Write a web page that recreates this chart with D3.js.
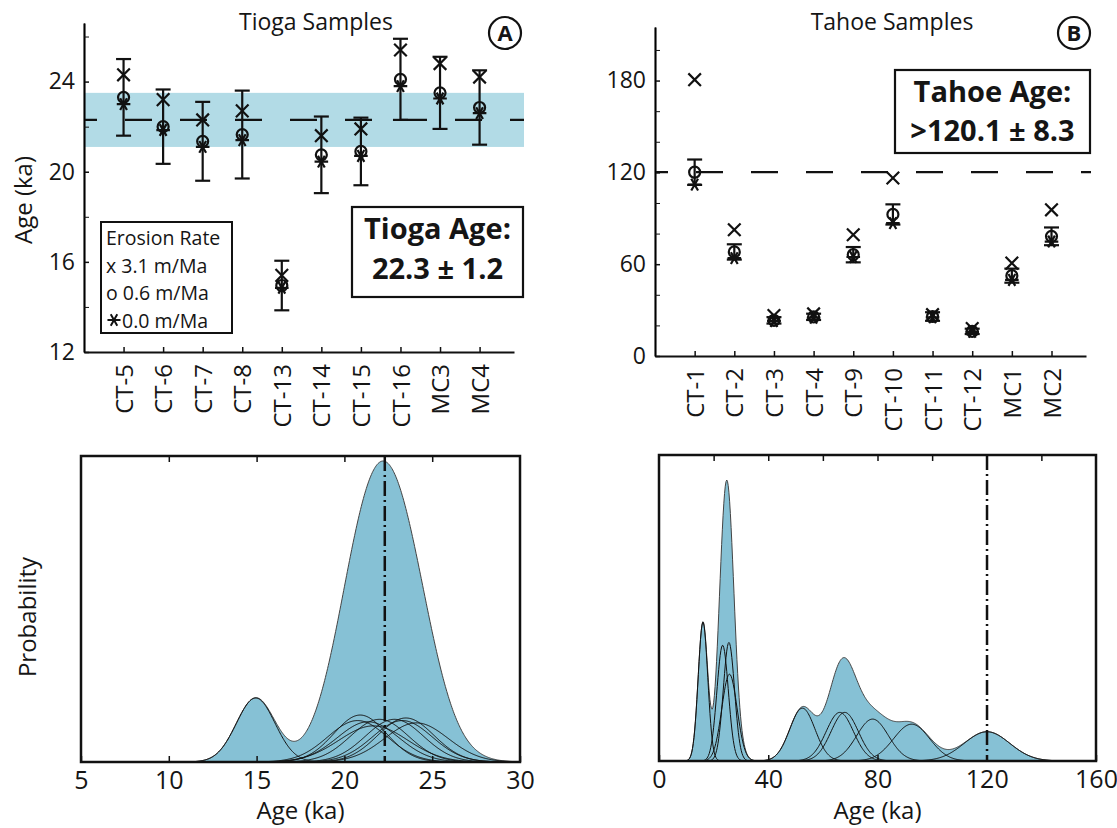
<!DOCTYPE html>
<html>
<head>
<meta charset="utf-8">
<script src="https://cdn.jsdelivr.net/npm/d3@7"></script>
<style>
body { margin: 0; background: #fff; }
text { font-family: "Open Sans", "Noto Sans", sans-serif; fill: #151515; }
</style>
</head>
<body>
<div id="chart"></div>
<script>
// ---- Tioga samples (panel A and bottom left) ----
const tiogaSamples = ["CT-5","CT-6","CT-7","CT-8","CT-13","CT-14","CT-15","CT-16","MC3","MC4"];
const tiogaAge31 = [24.3, 23.2, 22.3, 22.7, 15.4, 21.6, 21.9, 25.4, 24.8, 24.2];   // x  3.1 m/Ma
const tiogaAge06 = [23.3, 22.0, 21.35, 21.65, 14.95, 20.75, 20.9, 24.1, 23.5, 22.85]; // o 0.6 m/Ma
const tiogaAge00 = [23.0, 21.85, 21.1, 21.4, 14.85, 20.45, 20.7, 23.8, 23.25, 22.6]; // * 0.0 m/Ma
const tiogaErr   = [1.7, 1.65, 1.75, 1.95, 1.1, 1.7, 1.5, 1.8, 1.6, 1.65];
const tiogaMean = 22.3, tiogaSd = 1.2;

// ---- Tahoe samples (panel B and bottom right) ----
const tahoeSamples = ["CT-1","CT-2","CT-3","CT-4","CT-9","CT-10","CT-11","CT-12","MC1","MC2"];
const tahoeAge31 = [180.6, 82.5, 26.5, 27.5, 79.2, 116.3, 27.0, 18.0, 60.7, 95.5];
const tahoeAge06 = [120.1, 68.0, 23.3, 25.6, 66.2, 92.5, 25.8, 16.1, 52.5, 78.2];
const tahoeAge00 = [112.0, 64.0, 22.8, 25.0, 64.7, 86.8, 25.2, 15.8, 49.7, 74.8];
const tahoeErr   = [8.3, 5.0, 2.1, 2.05, 5.0, 6.6, 2.8, 1.75, 4.6, 5.8];
const tahoeMean = 120.1, tahoeSd = 8.3;

const bandColor = "#b2dbe6";
const pdfColor = "#86c1d5";

const svg = d3.select("#chart").append("svg")
    .attr("width", 1117)
    .attr("height", 828);

// top panels: ages of each sample for the three erosion rates
function drawAges(cfg) {
    let g = svg.append("g");
    let x = d3.scaleLinear().domain([0, 10.87]).range(cfg.xRange);
    let y = d3.scaleLinear().domain(cfg.yDomain).range(cfg.yRange);
    let idx = d3.range(1, cfg.samples.length + 1);

    if (cfg.band) {
        g.append("rect")
            .attr("x", x(0)).attr("width", cfg.lineEnd - x(0))
            .attr("y", y(cfg.mean + cfg.sd))
            .attr("height", y(cfg.mean - cfg.sd) - y(cfg.mean + cfg.sd))
            .attr("fill", bandColor);
    }
    g.append("line")
        .attr("x1", x(0)).attr("x2", cfg.lineEnd)
        .attr("y1", y(cfg.mean)).attr("y2", y(cfg.mean))
        .attr("stroke", "#111").attr("stroke-width", 2.2)
        .attr("stroke-dasharray", "27,28").attr("stroke-dashoffset", 14);

    // axes
    let yAxis = d3.axisLeft(y).tickValues(cfg.yMajor).tickSize(-5).tickSizeOuter(0).tickPadding(9);
    let yMinor = d3.axisLeft(y).tickValues(cfg.yMinor).tickSize(-5).tickSizeOuter(0).tickFormat("");
    let xAxis = d3.axisBottom(x).tickValues(idx).tickSize(-5).tickSizeOuter(0)
        .tickFormat(i => cfg.samples[i - 1]);

    let ya = g.append("g").attr("transform", "translate(" + x(0) + ",0)").call(yAxis);
    g.append("g").attr("transform", "translate(" + x(0) + ",0)").call(yMinor);
    let xa = g.append("g").attr("transform", "translate(0," + cfg.yRange[0] + ")").call(xAxis);
    [ya, xa].forEach(a => {
        a.select(".domain").attr("stroke-width", 2.2).attr("stroke", "#111");
        a.selectAll(".tick line").attr("stroke-width", 1.5);
        a.selectAll("text").attr("font-size", 23).attr("fill", "#151515")
            .style("font-family", '"Open Sans", sans-serif');
    });
    g.selectAll(".tick line").attr("stroke", "#111");
    xa.selectAll("text")
        .attr("transform", "rotate(-90)")
        .attr("text-anchor", "end")
        .attr("x", -12).attr("y", 0).attr("dy", "0.36em")
        .attr("font-size", 24);

    // error bars (around the 0.6 m/Ma age)
    let bars = g.append("g").attr("stroke", "#111").attr("stroke-width", 2.2).attr("fill", "none");
    let cap = 7.5;
    idx.forEach((i, k) => {
        let c = x(i);
        let top = y(cfg.age06[k] + cfg.err[k]), bot = y(cfg.age06[k] - cfg.err[k]);
        bars.append("line").attr("x1", c).attr("x2", c).attr("y1", top).attr("y2", bot);
        bars.append("line").attr("x1", c - cap).attr("x2", c + cap).attr("y1", top).attr("y2", top);
        bars.append("line").attr("x1", c - cap).attr("x2", c + cap).attr("y1", bot).attr("y2", bot);
    });

    // markers
    let sx = d3.symbol().type(d3.symbolTimes).size(105);
    let so = d3.symbol().type(d3.symbolCircle).size(95);
    let sa = d3.symbol().type(d3.symbolAsterisk).size(130);
    let mk = g.append("g").attr("stroke", "#111").attr("stroke-width", 2.2).attr("fill", "none");
    mk.selectAll(".m31").data(cfg.age31).enter().append("path")
        .attr("d", sx).attr("transform", (d, k) => "translate(" + x(k + 1) + "," + y(d) + ")");
    mk.selectAll(".m06").data(cfg.age06).enter().append("path")
        .attr("d", so).attr("transform", (d, k) => "translate(" + x(k + 1) + "," + y(d) + ")");
    mk.selectAll(".m00").data(cfg.age00).enter().append("path")
        .attr("d", sa).attr("transform", (d, k) => "translate(" + x(k + 1) + "," + y(d) + ") rotate(90)");

    // title and panel letter
    svg.append("text").attr("x", cfg.titleX).attr("y", 30).attr("text-anchor", "middle")
        .attr("font-size", 23).text(cfg.title);
    svg.append("circle").attr("cx", cfg.letterX).attr("cy", 33).attr("r", 16)
        .attr("fill", "none").attr("stroke", "#111").attr("stroke-width", 2.2);
    svg.append("text").attr("x", cfg.letterX).attr("y", 41).attr("text-anchor", "middle")
        .attr("font-size", 22).attr("font-weight", "bold").text(cfg.letter);

    // age box
    let b = cfg.box;
    svg.append("rect").attr("x", b[0]).attr("y", b[1]).attr("width", b[2]).attr("height", b[3])
        .attr("fill", "#fff").attr("stroke", "#111").attr("stroke-width", 2.2);
    cfg.boxText.forEach((t, k) => {
        svg.append("text").attr("x", b[0] + b[2] / 2).attr("y", cfg.boxBase[k])
            .attr("text-anchor", "middle").attr("font-size", 29).attr("font-weight", "bold").text(t);
    });
    return {x: x, y: y};
}

// bottom panels: probability density of the 0.6 m/Ma ages
function drawPdf(cfg) {
    let g = svg.append("g");
    let x = d3.scaleLinear().domain(cfg.xDomain).range(cfg.xRange);
    let grid = d3.range(cfg.xDomain[0], cfg.xDomain[1] + 1e-9, (cfg.xDomain[1] - cfg.xDomain[0]) / 600);
    let gauss = (t, m, s) => Math.exp(-0.5 * ((t - m) / s) ** 2) / (s * Math.sqrt(2 * Math.PI));
    let curves = cfg.ages.map((m, k) => grid.map(t => [t, gauss(t, m, cfg.err[k])]));
    let total = grid.map((t, j) => [t, d3.sum(curves, c => c[j][1])]);
    let peak = d3.max(total, d => d[1]);
    let y = d3.scaleLinear().domain([0, peak * cfg.headroom]).range(cfg.yRange);

    let area = d3.area().x(d => x(d[0])).y0(y(0)).y1(d => y(d[1]));
    let line = d3.line().x(d => x(d[0])).y(d => y(d[1]));

    g.append("path").datum(total).attr("d", area)
        .attr("fill", pdfColor).attr("stroke", "#444").attr("stroke-width", 1);
    g.selectAll(".c").data(curves).enter().append("path")
        .attr("d", line).attr("fill", "none").attr("stroke", "#111").attr("stroke-width", 1);

    g.append("line").attr("x1", x(cfg.mean)).attr("x2", x(cfg.mean))
        .attr("y1", cfg.yRange[1]).attr("y2", cfg.yRange[0])
        .attr("stroke", "#111").attr("stroke-width", 2.5)
        .attr("stroke-dasharray", "15,4,2,4");

    let bottom = d3.axisBottom(x).tickValues(cfg.ticks).tickSize(-6).tickSizeOuter(0).tickPadding(9);
    let top = d3.axisTop(x).tickValues(cfg.minor).tickSize(-6).tickSizeOuter(0).tickFormat("");
    let ba = g.append("g").attr("transform", "translate(0," + cfg.yRange[0] + ")").call(bottom);
    let ta = g.append("g").attr("transform", "translate(0," + cfg.yRange[1] + ")").call(top);
    [ba, ta].forEach(a => {
        a.select(".domain").remove();
        a.selectAll(".tick line").attr("stroke", "#111").attr("stroke-width", 1.5);
    });
    ba.selectAll("text").attr("font-size", 25).attr("fill", "#151515")
        .style("font-family", '"Open Sans", sans-serif');

    g.append("rect").attr("x", cfg.xRange[0]).attr("y", cfg.yRange[1])
        .attr("width", cfg.xRange[1] - cfg.xRange[0]).attr("height", cfg.yRange[0] - cfg.yRange[1])
        .attr("fill", "none").attr("stroke", "#111").attr("stroke-width", 2.5);

    g.append("text").attr("x", (cfg.xRange[0] + cfg.xRange[1]) / 2).attr("y", 819)
        .attr("text-anchor", "middle").attr("font-size", 24).text("Age (ka)");
}

drawAges({
    samples: tiogaSamples, age31: tiogaAge31, age06: tiogaAge06, age00: tiogaAge00, err: tiogaErr,
    mean: tiogaMean, sd: tiogaSd, band: true,
    xRange: [84, 514], lineEnd: 524, yDomain: [12, 26.6], yRange: [352, 23],
    yMajor: [12, 16, 20, 24], yMinor: [14, 18, 22, 26],
    title: "Tioga Samples", titleX: 316, letter: "A", letterX: 505,
    box: [352, 207, 171, 90], boxText: ["Tioga Age:", "22.3 \u00b1 1.2"], boxBase: [239, 279]
});

drawAges({
    samples: tahoeSamples, age31: tahoeAge31, age06: tahoeAge06, age00: tahoeAge00, err: tahoeErr,
    mean: tahoeMean, sd: tahoeSd, band: false,
    xRange: [655, 1086], lineEnd: 1091, yDomain: [0, 215], yRange: [356, 27],
    yMajor: [0, 60, 120, 180], yMinor: [20, 40, 80, 100, 140, 160, 200],
    title: "Tahoe Samples", titleX: 892, letter: "B", letterX: 1074,
    box: [895, 70, 195, 83], boxText: ["Tahoe Age:", ">120.1 \u00b1 8.3"], boxBase: [102, 141]
});

// y labels
svg.append("text").attr("transform", "translate(32,200) rotate(-90)")
    .attr("text-anchor", "middle").attr("font-size", 24).text("Age (ka)");
svg.append("text").attr("transform", "translate(36,617) rotate(-90)")
    .attr("text-anchor", "middle").attr("font-size", 24).text("Probability");

// erosion-rate legend
const legendLines = ["Erosion Rate", "x 3.1 m/Ma", "o 0.6 m/Ma", "0.0 m/Ma"];
const leg = svg.append("g");
leg.append("rect").attr("x", 101).attr("y", 222).attr("width", 131).attr("height", 111)
    .attr("fill", "#fff").attr("stroke", "#111").attr("stroke-width", 2);
leg.selectAll("text").data(legendLines).enter().append("text")
    .attr("x", (d, k) => k === 3 ? 122 : 106)
    .attr("y", (d, k) => 245 + k * 27.5)
    .attr("font-size", 19.5).text(d => d);
leg.append("path").attr("d", d3.symbol().type(d3.symbolAsterisk).size(120))
    .attr("transform", "translate(114,320) rotate(90)")
    .attr("fill", "none").attr("stroke", "#111").attr("stroke-width", 2);

drawPdf({
    ages: tiogaAge06, err: tiogaErr, mean: tiogaMean,
    xDomain: [5, 30], xRange: [81, 520], yRange: [762, 456], headroom: 306 / 301,
    ticks: [5, 10, 15, 20, 25, 30], minor: [10, 15, 20, 25]
});

drawPdf({
    ages: tahoeAge06, err: tahoeErr, mean: tahoeMean,
    xDomain: [0, 160], xRange: [659, 1096], yRange: [761, 455], headroom: 306 / 281,
    ticks: [0, 40, 80, 120, 160], minor: [20, 40, 60, 80, 100, 120, 140]
});
</script>
</body>
</html>
